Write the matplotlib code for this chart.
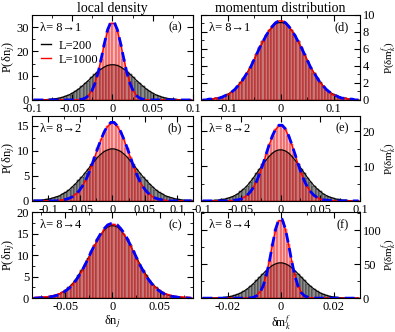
import numpy as np
import matplotlib
matplotlib.use("Agg")
import matplotlib.pyplot as plt
from matplotlib.lines import Line2D
from matplotlib.ticker import MultipleLocator, AutoMinorLocator, FuncFormatter

plt.rcParams['font.family'] = ['Liberation Serif', 'DejaVu Serif']
plt.rcParams['mathtext.fontset'] = 'stix'
plt.rcParams['axes.unicode_minus'] = False

# histogram heights (bins centred in each panel)
# panel (a)  lambda 8->1, local density
a_L200 = [0.03, 0.04, 0.07, 0.11, 0.17, 0.26, 0.39, 0.57, 0.81, 1.1, 1.6, 2.1, 2.8, 3.6, 4.5, 5.6, 6.8, 8.0, 9.3, 10.5,
          11.7, 12.7, 13.6, 14.2, 14.5, 14.5, 14.2, 13.6, 12.7, 11.7, 10.5, 9.3, 8.0, 6.8, 5.6, 4.5, 3.6, 2.8, 2.1, 1.6,
          1.1, 0.81, 0.57, 0.39, 0.26, 0.17, 0.11, 0.07, 0.04, 0.03]
a_L1000 = [0.1, 0.3, 0.8, 1.8, 3.7, 6.8, 11.3, 17.0, 23.2, 28.4, 31.5, 31.5, 28.4, 23.2, 17.0, 11.3, 6.8, 3.7, 1.8, 0.8, 0.3, 0.1]
a_fit = [0.1, 0.3, 0.7, 1.7, 3.5, 6.6, 11.0, 17.0, 23.4, 29.0, 32.1, 32.1, 29.0, 23.4, 17.0, 11.0, 6.6, 3.5, 1.7, 0.7, 0.3, 0.1]

# panel (b)  lambda 8->2
b_L200 = [0.1, 0.1, 0.1, 0.2, 0.3, 0.4, 0.6, 0.8, 1.0, 1.4, 1.7, 2.2, 2.8, 3.4, 4.1, 4.8, 5.6, 6.4, 7.3, 8.0,
          8.8, 9.4, 9.9, 10.2, 10.4, 10.4, 10.2, 9.9, 9.4, 8.8, 8.0, 7.3, 6.4, 5.6, 4.8, 4.1, 3.4, 2.8, 2.2, 1.7,
          1.4, 1.0, 0.8, 0.6, 0.4, 0.3, 0.2, 0.1, 0.1, 0.1]
b_L1000 = [0.1, 0.2, 0.3, 0.5, 0.8, 1.3, 1.9, 2.8, 3.9, 5.3, 7.0, 8.8, 10.6, 12.3, 13.8, 14.9, 15.5,
           15.5, 14.9, 13.8, 12.3, 10.6, 8.8, 7.0, 5.3, 3.9, 2.8, 1.9, 1.3, 0.8, 0.5, 0.3, 0.2, 0.1]
b_fit = [0.1, 0.2, 0.3, 0.5, 0.8, 1.3, 1.9, 2.8, 3.9, 5.3, 7.0, 8.9, 10.7, 12.4, 13.9, 15.0, 15.7,
         15.7, 15.0, 13.9, 12.4, 10.7, 8.9, 7.0, 5.3, 3.9, 2.8, 1.9, 1.3, 0.8, 0.5, 0.3, 0.2, 0.1]

# panel (c)  lambda 8->4
c_L200 = [0.1, 0.1, 0.1, 0.2, 0.3, 0.5, 0.7, 1.0, 1.4, 1.9, 2.5, 3.3, 4.3, 5.4, 6.6, 8.0, 9.4, 10.9, 12.4, 13.7,
          14.9, 15.9, 16.6, 16.9, 16.9, 16.6, 15.9, 14.9, 13.7, 12.4, 10.9, 9.4, 8.0, 6.6, 5.4, 4.3, 3.3, 2.5, 1.9, 1.4,
          1.0, 0.7, 0.5, 0.3, 0.2, 0.1, 0.1, 0.1]
c_L1000 = [0.1, 0.2, 0.2, 0.3, 0.3, 0.4, 0.6, 0.8, 1.0, 1.4, 1.8, 2.4, 3.1, 4.0, 5.0, 6.3, 7.6, 9.1, 10.8, 12.3,
           13.7, 15.0, 16.1, 16.8, 17.2, 17.2, 16.8, 16.1, 15.0, 13.7, 12.3, 10.8, 9.1, 7.6, 6.3, 5.0, 4.0, 3.1, 2.4, 1.8,
           1.4, 1.0, 0.8, 0.6, 0.4, 0.3, 0.3, 0.2, 0.2, 0.1]
c_fit = [0.1, 0.1, 0.2, 0.3, 0.4, 0.6, 0.8, 1.2, 1.7, 2.3, 3.1, 4.0, 5.1, 6.4, 7.8, 9.4, 11.0, 12.5, 14.0, 15.3,
         16.3, 17.1, 17.4, 17.4, 17.1, 16.3, 15.3, 14.0, 12.5, 11.0, 9.4, 7.8, 6.4, 5.1, 4.0, 3.1, 2.3, 1.7, 1.2, 0.8,
         0.6, 0.4, 0.3, 0.2, 0.1, 0.1]

# panel (d)  lambda 8->1, momentum distribution
d_L200 = [0.1, 0.1, 0.2, 0.2, 0.4, 0.5, 0.7, 0.9, 1.2, 1.6, 2.1, 2.6, 3.2, 3.9, 4.6, 5.4, 6.1, 6.9, 7.6, 8.2,
          8.6, 9.0, 9.1, 9.1, 9.0, 8.6, 8.2, 7.6, 6.9, 6.1, 5.4, 4.6, 3.9, 3.2, 2.6, 2.1, 1.6, 1.2, 0.9, 0.7,
          0.5, 0.4, 0.2, 0.2, 0.1, 0.1]
d_L1000 = [0.1, 0.1, 0.2, 0.2, 0.3, 0.5, 0.6, 0.9, 1.2, 1.6, 2.0, 2.6, 3.2, 3.8, 4.6, 5.4, 6.2, 6.9, 7.6, 8.2,
           8.7, 9.1, 9.3, 9.3, 9.1, 8.7, 8.2, 7.6, 6.9, 6.2, 5.4, 4.6, 3.8, 3.2, 2.6, 2.0, 1.6, 1.2, 0.9, 0.6,
           0.5, 0.3, 0.2, 0.2, 0.1, 0.1]
d_fit = [0.1, 0.1, 0.2, 0.2, 0.3, 0.5, 0.6, 0.9, 1.2, 1.6, 2.0, 2.6, 3.2, 3.8, 4.6, 5.4, 6.2, 6.9, 7.6, 8.2,
         8.7, 9.1, 9.3, 9.3, 9.1, 8.7, 8.2, 7.6, 6.9, 6.2, 5.4, 4.6, 3.8, 3.2, 2.6, 2.0, 1.6, 1.2, 0.9, 0.6,
         0.5, 0.3, 0.2, 0.2, 0.1, 0.1]

# panel (e)  lambda 8->2
e_L200 = [0.1, 0.1, 0.2, 0.2, 0.4, 0.5, 0.8, 1.1, 1.5, 2.0, 2.7, 3.5, 4.4, 5.5, 6.7, 8.0, 9.3, 10.6, 11.8, 12.9,
          13.8, 14.4, 14.7, 14.7, 14.4, 13.8, 12.9, 11.8, 10.6, 9.3, 8.0, 6.7, 5.5, 4.4, 3.5, 2.7, 2.0, 1.5, 1.1, 0.8,
          0.5, 0.4, 0.2, 0.2, 0.1, 0.1]
e_L1000 = [0.1, 0.2, 0.3, 0.5, 1.0, 1.6, 2.6, 3.9, 5.7, 8.0, 10.6, 13.5, 16.3, 18.7, 20.6, 21.6,
           21.6, 20.6, 18.7, 16.3, 13.5, 10.6, 8.0, 5.7, 3.9, 2.6, 1.6, 1.0, 0.5, 0.3, 0.2, 0.1]
e_fit = [0.1, 0.2, 0.3, 0.5, 1.0, 1.6, 2.6, 3.9, 5.7, 8.0, 10.7, 13.6, 16.4, 18.9, 20.8, 21.8,
         21.8, 20.8, 18.9, 16.4, 13.6, 10.7, 8.0, 5.7, 3.9, 2.6, 1.6, 1.0, 0.5, 0.3, 0.2, 0.1]

# panel (f)  lambda 8->4
f_L200 = [0.03, 0.06, 0.11, 0.18, 0.30, 0.50, 0.79, 1.2, 1.9, 2.7, 4.0, 5.6, 7.7, 10.3, 13.5, 17.2, 21.5, 26.1, 31.0, 35.9,
          40.6, 44.8, 48.2, 50.6, 51.9, 51.9, 50.6, 48.2, 44.8, 40.6, 35.9, 31.0, 26.1, 21.5, 17.2, 13.5, 10.3, 7.7, 5.6, 4.0,
          2.7, 1.9, 1.2, 0.79, 0.50, 0.30, 0.18, 0.11, 0.06, 0.03]
f_L1000 = [0.01, 0.04, 0.14, 0.48, 1.4, 3.8, 8.9, 18.4, 33.8, 55.0, 79.3, 101.1, 114.2,
           114.2, 101.1, 79.3, 55.0, 33.8, 18.4, 8.9, 3.8, 1.4, 0.48, 0.14, 0.04, 0.01]
f_fit = [0.01, 0.03, 0.11, 0.40, 1.2, 3.4, 8.2, 17.5, 32.9, 54.5, 79.6, 102.4, 116.2,
         116.2, 102.4, 79.6, 54.5, 32.9, 17.5, 8.2, 3.4, 1.2, 0.40, 0.11, 0.03, 0.01]

lambda_labels = ['λ= 8→1', 'λ= 8→2', 'λ= 8→4']
panel_tags = ['(a)', '(b)', '(c)', '(d)', '(e)', '(f)']
legend_labels = ['L=200', 'L=1000']

nbins = 50
fig = plt.figure(figsize=(3.95, 3.32), dpi=100)

cols = [(0.081, 0.4076), (0.509, 0.4025)]
rows = [(0.699, 0.256), (0.395, 0.256), (0.102, 0.258)]

# (xlim half width, bin width, ylim, y major, x major, lowest labelled y tick)
left_specs = [(0.1, 0.004, 35, 10, 0.05, 0), (0.125, 0.005, 17, 5, 0.05, 0), (0.085, 0.0034, 20, 5, 0.05, 0)]
right_specs = [(0.15, 0.006, 10, 2, 0.1, 0), (0.1, 0.004, 24.5, 10, 0.05, 10), (0.03, 0.0012, 126, 50, 0.02, 0)]
left_data = [(a_L200, a_L1000, a_fit), (b_L200, b_L1000, b_fit), (c_L200, c_L1000, c_fit)]
right_data = [(d_L200, d_L1000, d_fit), (e_L200, e_L1000, e_fit), (f_L200, f_L1000, f_fit)]

xfmt = FuncFormatter(lambda v, p: '%g' % round(v, 6))


def centred(vals):
    full = np.zeros(nbins)
    s = (nbins - len(vals)) // 2
    full[s:s + len(vals)] = vals
    return full


def panel(ax, spec, data):
    half, bw, ytop, ymaj, xmaj, ylow = spec
    x = -half + bw * (np.arange(nbins) + 0.5)
    h200, h1000, hfit = [centred(v) for v in data]
    ax.bar(x, h200, width=bw, color='#8c8c8c', edgecolor='black', linewidth=0.3)
    ax.bar(x, h1000, width=bw, color=(1, 0.4, 0.4, 0.5), edgecolor='#d00000', linewidth=0.3)
    ax.plot(x, h200, color='black', lw=0.8)
    ax.plot(x, h1000, color='red', lw=1.0)
    ax.plot(x, hfit, color='blue', lw=2.0, ls=(0, (3.5, 2)))
    ax.set_xlim(-half, half)
    ax.set_ylim(0, ytop)
    ax.yaxis.set_major_locator(MultipleLocator(ymaj))
    ax.xaxis.set_major_locator(MultipleLocator(xmaj))
    ax.xaxis.set_minor_locator(AutoMinorLocator(2))
    ax.yaxis.set_minor_locator(AutoMinorLocator(2))
    ax.xaxis.set_major_formatter(xfmt)
    ax.yaxis.set_major_formatter(FuncFormatter(lambda v, p: '%g' % v if v >= ylow else ''))
    ax.tick_params(which='both', direction='in', top=True, right=True, labelsize=9, pad=2)
    ax.tick_params(which='major', length=4)
    ax.tick_params(which='minor', length=2)


axes = []
for r in range(3):
    ax = fig.add_axes([cols[0][0], rows[r][0], cols[0][1], rows[r][1]])
    panel(ax, left_specs[r], left_data[r])
    ax.set_ylabel('P(δn$_j$)', fontsize=9, labelpad=0)
    axes.append(ax)
for r in range(3):
    ax = fig.add_axes([cols[1][0], rows[r][0], cols[1][1], rows[r][1]])
    panel(ax, right_specs[r], right_data[r])
    ax.tick_params(axis='y', which='both', labelleft=False, labelright=True)
    ax.set_ylabel('P(δm$^f_k$)', fontsize=8)
    ax.yaxis.set_label_position('right')
    ax.yaxis.set_label_coords(1.12, 0.5)
    axes.append(ax)

for i, ax in enumerate(axes):
    ax.text(0.05, 0.85, lambda_labels[i % 3], transform=ax.transAxes, fontsize=9, va='center')
    ax.text(0.93, 0.85, panel_tags[i], transform=ax.transAxes, fontsize=9, va='center', ha='right')

axes[0].set_title('local density', fontsize=10, pad=2)
axes[3].set_title('momentum distribution', fontsize=10, pad=2)
axes[2].set_xlabel('δn$_j$', fontsize=9, labelpad=0)
axes[5].set_xlabel('δm$^f_k$', fontsize=8.5, labelpad=0)

handles = [Line2D([], [], color='black', lw=1), Line2D([], [], color='red', lw=1)]
axes[0].legend(handles, legend_labels, loc='upper left', bbox_to_anchor=(0.0, 0.81), frameon=False,
               fontsize=9, handlelength=0.8, handletextpad=0.6, labelspacing=0.15, borderaxespad=0.3)

fig.savefig('out.png', dpi=100)
